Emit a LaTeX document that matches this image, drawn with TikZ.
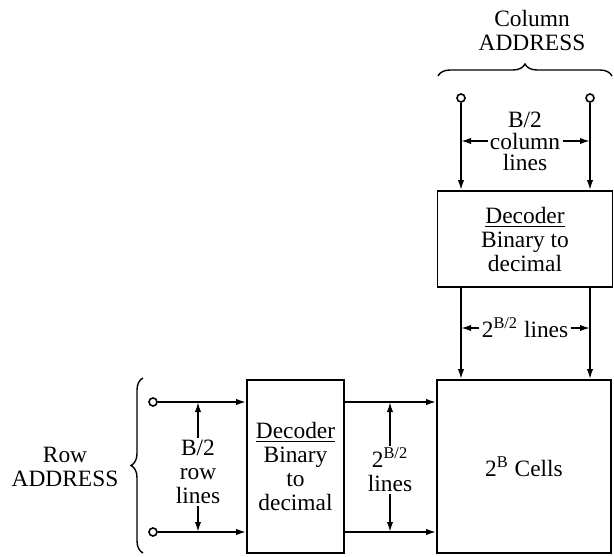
\documentclass[tikz,border=0pt]{standalone}
\usepackage{fontspec}
\setmainfont{Liberation Serif}
\usepackage{tikz}
\usetikzlibrary{arrows.meta, positioning, decorations.pathreplacing}

\begin{document}
\begin{tikzpicture}[
        x=0.5pt, y=-0.5pt,
        font=\fontsize{11.7}{12}\selectfont,
        block/.style={
            rectangle,
            draw=black,
            line width=0.9pt,
            align=center,
            inner sep=0pt
        },
        term/.style={circle, draw, line width=0.8pt, fill=white, minimum size=4pt, inner sep=0pt},
        lbl/.style={align=center, inner sep=1pt},
        arr/.style={-{Latex[length=5pt, width=3.2pt]}, line width=0.85pt},
        brc/.style={decorate, decoration={brace, amplitude=6pt}, line width=0.7pt}
    ]
        \useasboundingbox (0,0) rectangle (614,556);
        % blocks
        \node[block, minimum width=87.5pt, minimum height=48pt] (coldec) at (525,239) {\underline{Decoder}\\ Binary to\\ decimal};
        \node[block, minimum width=87pt, minimum height=86.5pt] (cells) at (524,466.5) {2\textsuperscript{B} Cells};
        \node[block, minimum width=48.5pt, minimum height=86.5pt] (rowdec) at (295.5,466.5) {\underline{Decoder}\\ Binary\\ to\\ decimal};
        % address terminals
        \node[term] (ct1) at (461,98) {};
        \node[term] (ct2) at (590,98) {};
        \node[term] (rt1) at (153,402) {};
        \node[term] (rt2) at (153,532) {};
        % address lines
        \draw[arr] (ct1) -- (ct1 |- coldec.north);
        \draw[arr] (ct2) -- (ct2 |- coldec.north);
        \draw[arr] (ct1 |- coldec.south) -- (ct1 |- cells.north);
        \draw[arr] (ct2 |- coldec.south) -- (ct2 |- cells.north);
        \draw[arr] (rt1) -- (rt1 -| rowdec.west);
        \draw[arr] (rt2) -- (rt2 -| rowdec.west);
        \draw[arr] (rt1 -| rowdec.east) -- (rt1 -| cells.west);
        \draw[arr] (rt2 -| rowdec.east) -- (rt2 -| cells.west);
        % labels
        \node[lbl] (colmid) at (525,141) {column};
        \node[lbl, above=0pt of colmid] (colup) {B/2};
        \node[lbl, below=0pt of colmid] (coldn) {lines};
        \draw[arr] (colmid.west) -- (colmid.west -| ct1);
        \draw[arr] (colmid.east) -- (colmid.east -| ct2);
        \node[lbl] (declines) at (525,328) {2\textsuperscript{B/2} lines};
        \draw[arr] (declines.west) -- (declines.west -| ct1);
        \draw[arr] (declines.east) -- (declines.east -| ct2);
        \node[lbl] (rowlbl) at (198,472) {B/2\\ row\\ lines};
        \draw[arr] (rowlbl.north) -- (rowlbl.north |- rt1);
        \draw[arr] (rowlbl.south) -- (rowlbl.south |- rt2);
        \node[lbl] (celllbl) at (390,470) {2\textsuperscript{B/2}\\ lines};
        \draw[arr] (celllbl.north) -- (celllbl.north |- rt1);
        \draw[arr] (celllbl.south) -- (celllbl.south |- rt2);
        % address braces
        \draw[brc] (438,76) -- (612,76);
        \node[lbl] (coladdr) at (532,30) {Column\\ ADDRESS};
        \draw[brc] (143,553) -- (143,378);
        \node[lbl] (rowaddr) at (65,467) {Row\\ ADDRESS};
    \end{tikzpicture}
\end{document}
